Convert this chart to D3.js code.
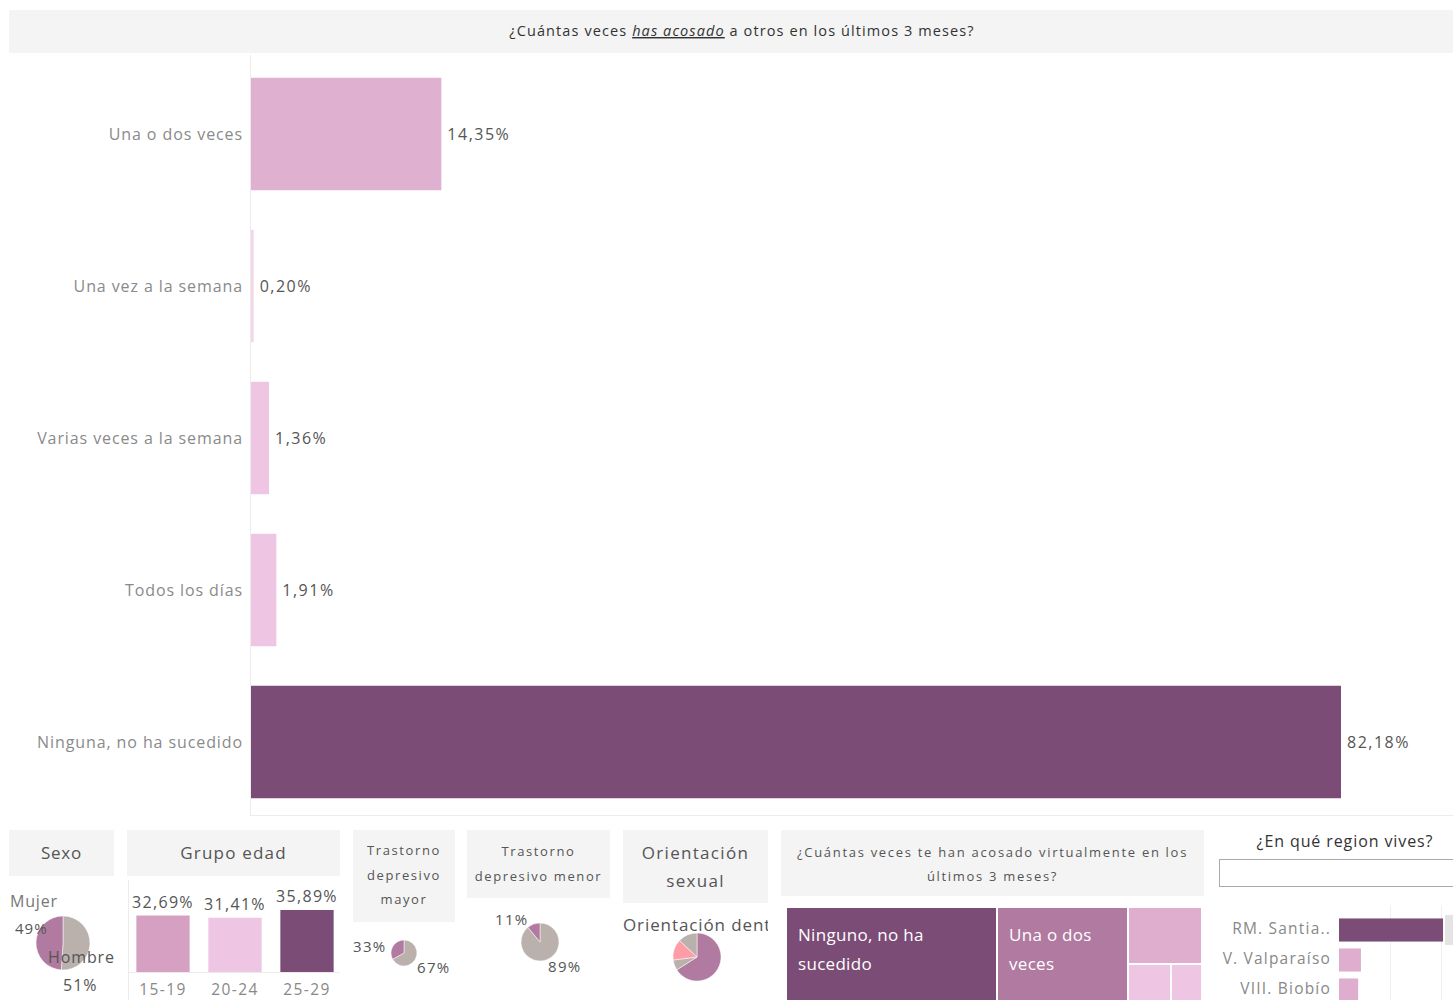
<!DOCTYPE html>
<html><head><meta charset="utf-8">
<script src="https://cdn.jsdelivr.net/npm/d3@7"></script>
<style>
html,body{margin:0;padding:0;background:#fff;}
svg{display:block;font-family:"Open Sans",sans-serif;}
</style></head>
<body>
<svg id="c" width="1453" height="1000"></svg>
<script>
// ---------- DATA ----------
const mainCategories = ["Una o dos veces","Una vez a la semana","Varias veces a la semana","Todos los días","Ninguna, no ha sucedido"];
const mainValues = [14.35, 0.20, 1.36, 1.91, 82.18];
const mainColors = ["#e0b0d0","#f3d5ea","#eec5e3","#eec5e3","#7b4c76"];

const sexoLabels = ["Hombre","Mujer"];
const sexoValues = [51, 49];

const ageGroups = ["15-19","20-24","25-29"];
const ageValues = [32.69, 31.41, 35.89];
const ageColors = ["#d6a0c3","#eec5e3","#7b4c76"];

const tdMayorLabels = ["No","Sí"];
const tdMayorValues = [67, 33];

const tdMenorLabels = ["No","Sí"];
const tdMenorValues = [89, 11];

const orientLabels = ["Heterosexual","Homosexual","Bisexual","Otra"];
const orientValues = [66, 7, 14, 13];
const orientColors = ["#b07aa1","#bab0ac","#ff9da7","#bab0ac"];

const cyberLabels = ["Ninguno, no ha sucedido","Una o dos veces","Varias veces a la semana","Todos los días","Una vez a la semana"];
const cyberValues = [50.7, 31.4, 10.9, 4.1, 2.9];
const cyberColors = ["#7b4c76","#b07aa1","#dfaecf","#eec5e3","#eec5e3"];

const regionLabels = ["RM. Santia..","V. Valparaíso","VIII. Biobío"];
const regionValues = [40.8, 8.6, 7.5];
const regionColors = ["#7b4c76","#dfaecf","#dfaecf"];

const fmt = v => d3.format(".2f")(v).replace(".", ",") + "%";

// ---------- DRAW ----------
const svg = d3.select("#c");
const GRAY_BG = "#f4f4f4";

// Main header
svg.append("rect").attr("x",9).attr("y",10).attr("width",1444).attr("height",43).attr("fill",GRAY_BG);
const title = svg.append("text").attr("x",742).attr("y",36).attr("text-anchor","middle")
  .attr("font-size",14.5).attr("letter-spacing",1.1).attr("fill","#333");
title.append("tspan").text("¿Cuántas veces ");
title.append("tspan").attr("font-style","italic").attr("text-decoration","underline").text("has acosado");
title.append("tspan").text(" a otros en los últimos 3 meses?");

// Main bar chart
const x = d3.scaleLinear().domain([0, d3.max(mainValues)]).range([251, 1341]);
const y = d3.scaleBand().domain(mainCategories).range([58, 818]).paddingInner(0.26).paddingOuter(0.13);

svg.append("line").attr("x1",250.5).attr("x2",250.5).attr("y1",55).attr("y2",816).attr("stroke","#ececec");
svg.append("line").attr("x1",250).attr("x2",1453).attr("y1",815.5).attr("y2",815.5).attr("stroke","#ececec");

svg.selectAll("rect.mb").data(mainValues).join("rect").attr("class","mb")
  .attr("x", x(0)).attr("y",(d,i)=>y(mainCategories[i]))
  .attr("width", d=>x(d)-x(0)).attr("height", y.bandwidth())
  .attr("fill",(d,i)=>mainColors[i]);

const yAxis = d3.axisLeft(y).tickSize(0).tickPadding(0);
const ya = svg.append("g").attr("transform","translate(243,1)").call(yAxis);
ya.select(".domain").remove();
ya.selectAll("text").attr("font-size",16).attr("letter-spacing",0.9).attr("fill","#8a8a8a").attr("font-family","Open Sans");

svg.selectAll("text.mv").data(mainValues).join("text").attr("class","mv")
  .attr("x", d=>x(d)+6).attr("y",(d,i)=>y(mainCategories[i])+y.bandwidth()/2+6)
  .attr("font-size",16).attr("letter-spacing",1.5).attr("fill","#555").text(d=>fmt(d));

// Header boxes for bottom panels
function header(x0,y0,w,h,lines,size,baseY,lh,ls){
  svg.append("rect").attr("x",x0).attr("y",y0).attr("width",w).attr("height",h).attr("fill",GRAY_BG);
  const t = svg.append("text").attr("text-anchor","middle").attr("font-size",size)
    .attr("letter-spacing",ls).attr("fill","#555");
  lines.forEach((l,i)=>t.append("tspan").attr("x",x0+w/2).attr("y",baseY+i*lh).text(l));
}
header(9,830,105,46,["Sexo"],17,859,0,0.8);
header(127,830,213,46,["Grupo edad"],17,859,0,1.2);
header(353,830,102,92,["Trastorno","depresivo","mayor"],13,855,24.5,1.6);
header(467,830,143,68,["Trastorno","depresivo menor"],13,856,25,1.6);
header(623,830,145,73,["Orientación","sexual"],17,859,28,1.3);
header(781,830,423,66,["¿Cuántas veces te han acosado virtualmente en los","últimos 3 meses?"],13,857,24,1.7);

// Pies
function pie(cx,cy,r,values,colors){
  const arcs = d3.pie().sort(null).value(d=>d)(values);
  const arc = d3.arc().innerRadius(0).outerRadius(r);
  svg.append("g").attr("transform",`translate(${cx},${cy})`)
    .selectAll("path").data(arcs).join("path").attr("d",arc)
    .attr("fill",(d,i)=>colors[i]).attr("stroke","#fff").attr("stroke-width",0.5);
}
function label(x0,y0,txt,size,color,anchor,ls){
  return svg.append("text").attr("x",x0).attr("y",y0).attr("font-size",size).attr("fill",color||"#555")
    .attr("text-anchor",anchor||"start").attr("letter-spacing",ls||0).text(txt);
}
const pct = v => v + "%";

// Sexo
pie(63,943,27,sexoValues,["#bab0ac","#b07aa1"]);
label(10,907,sexoLabels[1],16,"#777","start",0.8);
label(15,934,pct(sexoValues[1]),15,"#555","start",1);
label(48,963,sexoLabels[0],16,"#555","start",0.9);
label(63,991,pct(sexoValues[0]),16,"#555","start",1);

// Grupo edad
const xa = d3.scaleBand().domain(ageGroups).range([127,343]).paddingInner(0.26).paddingOuter(0.13);
const ya2 = d3.scaleLinear().domain([0, d3.max(ageValues)]).range([972, 910]);
svg.append("line").attr("x1",128.5).attr("x2",128.5).attr("y1",880).attr("y2",1000).attr("stroke","#ececec");
svg.append("line").attr("x1",128).attr("x2",340).attr("y1",972.5).attr("y2",972.5).attr("stroke","#ececec");
svg.selectAll("rect.ab").data(ageValues).join("rect").attr("class","ab")
  .attr("x",(d,i)=>xa(ageGroups[i])).attr("y",d=>ya2(d))
  .attr("width",xa.bandwidth()).attr("height",d=>ya2(0)-ya2(d)).attr("fill",(d,i)=>ageColors[i]);
svg.selectAll("text.av").data(ageValues).join("text").attr("class","av")
  .attr("x",(d,i)=>xa(ageGroups[i])+xa.bandwidth()/2).attr("y",d=>ya2(d)-8)
  .attr("text-anchor","middle").attr("font-size",16).attr("letter-spacing",1.3).attr("fill","#555").text(d=>fmt(d));
const xAxA = svg.append("g").attr("transform","translate(0,980)").call(d3.axisBottom(xa).tickSize(0).tickPadding(0));
xAxA.select(".domain").remove();
xAxA.selectAll("text").attr("font-size",15.5).attr("letter-spacing",1.4).attr("fill","#888").attr("font-family","Open Sans").attr("dy","0.95em");

// Trastorno depresivo mayor
pie(404,953,13,tdMayorValues,["#bab0ac","#b07aa1"]);
label(353,952,pct(tdMayorValues[1]),15,"#555","start",1.3);
label(417,973,pct(tdMayorValues[0]),15,"#555","start",1.3);

// Trastorno depresivo menor
pie(540,942,19,tdMenorValues,["#bab0ac","#b07aa1"]);
label(495,925,pct(tdMenorValues[1]),15,"#555","start",1.3);
label(548,972,pct(tdMenorValues[0]),15,"#555","start",1.3);

// Orientación sexual
svg.append("clipPath").attr("id","oc").append("rect").attr("x",620).attr("y",900).attr("width",148).attr("height",40);
label(623,931,"Orientación dent",17,"#555","start",0.9).attr("clip-path","url(#oc)");
pie(697,957,24,orientValues,orientColors);

// Treemap
const root = d3.hierarchy({children: cyberValues.map((v,i)=>({name:cyberLabels[i], value:v, color:cyberColors[i]}))})
  .sum(d=>d.value||0);
d3.treemap().tile(d3.treemapSquarify.ratio(1)).size([414,92]).paddingInner(2).round(true)(root);
const tm = svg.append("g").attr("transform","translate(787,908)");
const leaves = tm.selectAll("g").data(root.leaves()).join("g").attr("transform",d=>`translate(${d.x0},${d.y0})`);
leaves.append("rect").attr("width",d=>d.x1-d.x0).attr("height",d=>d.y1-d.y0).attr("fill",d=>d.data.color);
const wrapLines = {"Ninguno, no ha sucedido":["Ninguno, no ha","sucedido"],"Una o dos veces":["Una o dos","veces"]};
leaves.filter(d=>wrapLines[d.data.name]).append("text").attr("fill","#fff").attr("font-size",17).attr("letter-spacing",0.3)
  .each(function(d){
    const t=d3.select(this);
    wrapLines[d.data.name].forEach((l,i)=>t.append("tspan").attr("x",11).attr("y",33+i*29).text(l));
  });

// Region
label(1345,847,"¿En qué region vives?",16,"#333","middle",0.9);
svg.append("rect").attr("x",1219.5).attr("y",859.5).attr("width",240).attr("height",27).attr("fill","#fff").attr("stroke","#aaa");
const xr = d3.scaleLinear().domain([0,40]).range([1339,1441]);
const yr = d3.scaleBand().domain(regionLabels).range([914,1004]).paddingInner(0.23).paddingOuter(0.115);
svg.selectAll("line.rg").data([20,40]).join("line").attr("class","rg")
  .attr("x1",d=>xr(d)+0.5).attr("x2",d=>xr(d)+0.5).attr("y1",905).attr("y2",1000).attr("stroke","#efefef");
svg.selectAll("rect.rb").data(regionValues).join("rect").attr("class","rb")
  .attr("x",xr(0)).attr("y",(d,i)=>yr(regionLabels[i])+1).attr("width",d=>xr(d)-xr(0)).attr("height",yr.bandwidth())
  .attr("fill",(d,i)=>regionColors[i]);
const yAxR = svg.append("g").attr("transform","translate(1331,0.5)").call(d3.axisLeft(yr).tickSize(0).tickPadding(0));
yAxR.select(".domain").remove();
yAxR.selectAll("text").attr("font-size",15.5).attr("letter-spacing",1.2).attr("fill","#888").attr("font-family","Open Sans");
svg.append("rect").attr("x",1445).attr("y",915).attr("width",8).attr("height",30).attr("fill","#e4e4e4");
</script>
</body></html>
